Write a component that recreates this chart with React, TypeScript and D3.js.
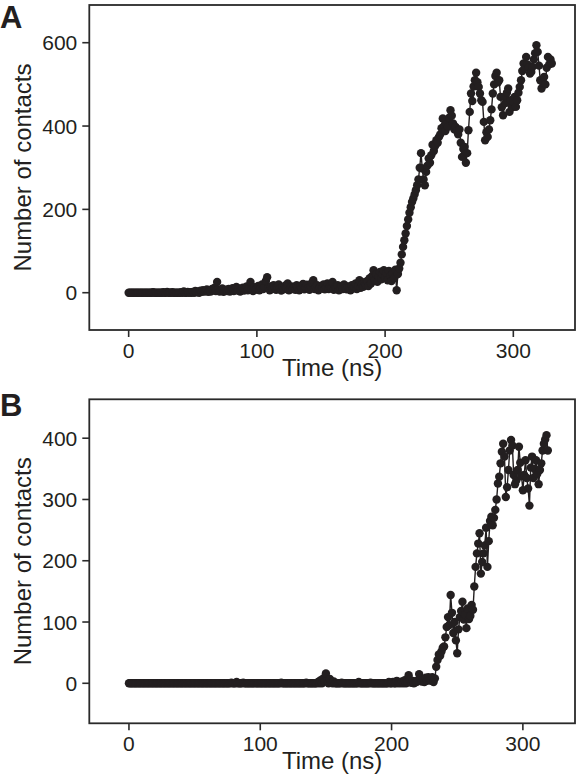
import React from 'react';
import * as d3 from 'd3';

// Number of contacts, one sample per ns (panel A: 0..330 ns, panel B: 0..319 ns)
const contactsA: number[] = [
  0, 0, 0, 0, 0, 0, 0, 0, 0, 0,
  0, 0, 0, 0, 0, 0, 0, 0, 0, 1,
  0, 0, 0, 0, 0, 0, 0, 1, 0, 0,
  2, 0, 0, 0, 1, 0, 0, 0, 0, 0,
  0, 1, 0, 3, 0, 0, 2, 0, 1, 0,
  2, 0, 4, 1, 3, 0, 5, 2, 6, 3,
  4, 8, 2, 5, 3, 9, 6, 12, 4, 26,
  8, 3, 6, 10, 2, 5, 7, 4, 9, 3,
  6, 11, 4, 8, 14, 5, 10, 3, 7, 12,
  5, 9, 15, 6, 11, 26, 8, 4, 13, 7,
  10, 16, 6, 12, 20, 9, 14, 28, 37, 12,
  6, 15, 9, 18, 11, 7, 14, 20, 10, 5,
  13, 8, 17, 11, 22, 6, 10, 15, 9, 14,
  7, 18, 12, 6, 16, 10, 21, 8, 13, 19,
  11, 7, 15, 24, 30, 9, 14, 18, 6, 12,
  16, 10, 20, 8, 13, 22, 9, 15, 11, 26,
  7, 14, 10, 18, 6, 12, 16, 9, 20, 11,
  8, 15, 12, 6, 18, 10, 14, 22, 9, 16,
  30, 12, 20, 14, 25, 18, 28, 16, 35, 22,
  40, 54, 30, 45, 26, 38, 50, 32, 44, 54,
  36, 48, 30, 52, 40, 28, 46, 35, 55, 6,
  45, 58, 72, 92, 110, 126, 142, 160, 176, 192,
  205, 218, 226, 236, 246, 258, 272, 300, 335, 298,
  272, 258, 290, 305, 322, 312, 330, 355, 340, 352,
  366, 360, 374, 380, 395, 418, 400, 388, 405, 398,
  420, 438, 425, 406, 392, 398, 388, 380, 392, 360,
  326, 345, 350, 312, 335, 390, 434, 478, 460, 495,
  510, 528, 505, 494, 478, 462, 458, 410, 366, 385,
  374, 392, 414, 440, 478, 500, 520, 528, 505, 510,
  470, 445, 426, 470, 455, 480, 490, 434, 462, 445,
  458, 470, 446, 462, 480, 494, 510, 532, 550, 540,
  566, 548, 540, 526, 530, 542, 560, 575, 594, 578,
  545, 510, 490, 505, 518, 500, 540, 566, 548, 560, 550,
];

const contactsB: number[] = [
  0, 0, 0, 0, 0, 0, 0, 0, 0, 0,
  0, 0, 0, 0, 0, 0, 0, 0, 0, 0,
  0, 0, 0, 0, 0, 0, 0, 0, 0, 0,
  0, 0, 0, 0, 0, 0, 0, 0, 0, 0,
  0, 0, 0, 0, 0, 0, 0, 0, 0, 0,
  0, 0, 0, 0, 0, 0, 0, 0, 0, 0,
  0, 0, 0, 0, 0, 0, 0, 0, 0, 0,
  0, 0, 0, 0, 0, 0, 0, 0, 1, 0,
  0, 0, 2, 0, 0, 0, 0, 1, 0, 0,
  0, 0, 0, 0, 0, 0, 0, 0, 0, 0,
  0, 0, 0, 0, 0, 0, 0, 0, 0, 0,
  0, 0, 0, 0, 0, 0, 1, 0, 0, 0,
  0, 0, 0, 0, 0, 0, 0, 0, 0, 0,
  0, 0, 0, 0, 0, 1, 0, 0, 0, 0,
  0, 0, 0, 0, 2, 0, 5, 0, 8, 3,
  16, 4, 0, 7, 2, 0, 3, 0, 0, 0,
  0, 0, 1, 0, 0, 0, 0, 0, 0, 0,
  0, 0, 0, 0, 0, 2, 0, 0, 0, 0,
  0, 0, 0, 0, 1, 0, 0, 0, 0, 0,
  0, 0, 0, 0, 0, 0, 0, 0, 2, 0,
  0, 2, 0, 0, 4, 0, 1, 0, 3, 0,
  5, 0, 2, 13, 6, 1, 4, 0, 3, 2,
  5, 15, 8, 3, 6, 2, 9, 4, 10, 6,
  4, 10, 2, 8, 27, 38, 47, 45, 52, 58,
  60, 75, 92, 108, 95, 144, 115, 82, 100, 70,
  49, 88, 108, 118, 133, 104, 112, 90, 122, 105,
  110, 128, 120, 158, 190, 212, 228, 245, 179, 198,
  212, 225, 254, 190, 232, 265, 272, 258, 270, 283,
  300, 326, 337, 359, 378, 391, 370, 304, 320, 348,
  380, 397, 388, 340, 325, 331, 348, 386, 360, 338,
  315, 340, 364, 335, 318, 290, 352, 370, 335, 350,
  364, 342, 325, 348, 359, 380, 391, 398, 405, 380,
];

const timeStepNs = 1;
const xTicks = [0, 100, 200, 300];
const yTicksA = [0, 200, 400, 600];
const yTicksB = [0, 100, 200, 300, 400];
const xTitle = 'Time (ns)';
const yTitle = 'Number of contacts';

const FONT = '"Liberation Sans", Arial, Helvetica, sans-serif';
const INK = '#231f20';

type PanelProps = {
  letter: string;
  letterY: number;
  values: number[];
  left: number;
  right: number;
  top: number;
  bottom: number;
  xDomain: [number, number];
  yDomain: [number, number];
  yTicks: number[];
};

function Panel(p: PanelProps) {
  const x = d3.scaleLinear().domain(p.xDomain).range([p.left, p.right]);
  const y = d3.scaleLinear().domain(p.yDomain).range([p.bottom, p.top]);
  const pts = p.values.map((v, i) => [i * timeStepNs, v] as [number, number]);
  const line = d3.line<[number, number]>().x(d => x(d[0])).y(d => y(d[1]));
  const cy = (p.top + p.bottom) / 2;
  const cx = (p.left + p.right) / 2;
  return (
    <g>
      <text x={0} y={p.letterY} fontFamily={FONT} fontWeight="bold" fontSize={31} fill={INK}>{p.letter}</text>
      <path d={line(pts) || ''} fill="none" stroke={INK} strokeWidth={1.4} />
      {pts.map((d, i) => (
        <circle key={i} cx={x(d[0])} cy={y(d[1])} r={4.2} fill={INK} />
      ))}
      <rect x={p.left} y={p.top} width={p.right - p.left} height={p.bottom - p.top} fill="none" stroke="#2a2a2a" strokeWidth={1.8} />
      {p.yTicks.map(t => (
        <g key={'y' + t}>
          <line x1={p.left - 7} x2={p.left} y1={y(t)} y2={y(t)} stroke="#2a2a2a" strokeWidth={1.6} />
          <text x={p.left - 12} y={y(t)} dy="0.36em" textAnchor="end" fontFamily={FONT} fontSize={21} fill={INK}>{t}</text>
        </g>
      ))}
      {xTicks.map(t => (
        <g key={'x' + t}>
          <line x1={x(t)} x2={x(t)} y1={p.bottom} y2={p.bottom + 7} stroke="#2a2a2a" strokeWidth={1.6} />
          <text x={x(t)} y={p.bottom + 28} textAnchor="middle" fontFamily={FONT} fontSize={21} fill={INK}>{t}</text>
        </g>
      ))}
      <text x={cx} y={p.bottom + 46} textAnchor="middle" fontFamily={FONT} fontSize={24} fill={INK}>{xTitle}</text>
      <text transform={`translate(31,${cy}) rotate(-90)`} textAnchor="middle" fontFamily={FONT} fontSize={24} fill={INK}>{yTitle}</text>
    </g>
  );
}

export default function App() {
  return (
    <svg width={578} height={776} style={{ position: 'absolute', left: 0, top: 0, background: '#fff' }}>
      <rect x={0} y={0} width={578} height={776} fill="#fff" />
      <Panel
        letter="A" letterY={28} values={contactsA}
        left={89.3} right={575} top={5} bottom={330}
        xDomain={[-30.7, 348.1]} yDomain={[-89.5, 690.5]} yTicks={yTicksA}
      />
      <Panel
        letter="B" letterY={416} values={contactsB}
        left={89.3} right={575} top={399.3} bottom={723.3}
        xDomain={[-30.2, 339.7]} yDomain={[-65.3, 463.5]} yTicks={yTicksB}
      />
    </svg>
  );
}
